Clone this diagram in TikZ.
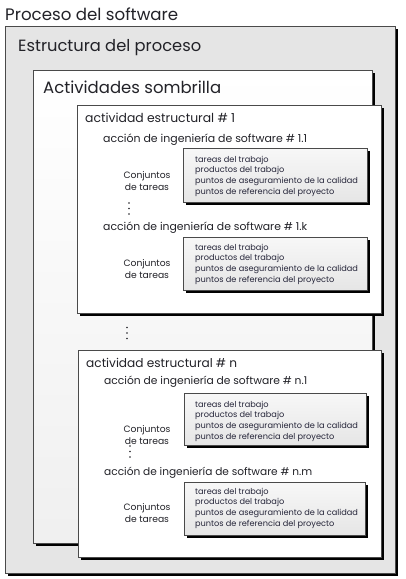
\documentclass[tikz,border=0pt]{standalone}
\usepackage{graphicx}
\usepackage{fontspec}
\setmainfont{Poppins}
\usetikzlibrary{shadows}
\definecolor{txt}{HTML}{222228}
\definecolor{tasktxt}{HTML}{26263A}
\definecolor{edge}{HTML}{4A4A4A}
\tikzset{
  shbox/.style={draw=edge, line width=0.6pt, anchor=north west, inner sep=0pt,
    drop shadow={shadow xshift=3pt, shadow yshift=-3pt, opacity=1, fill=black}},
  outerbox/.style={shbox, fill=black!10},
  umbrella/.style={shbox, top color=white, bottom color=black!6},
  actbox/.style={shbox, fill=white},
  taskbox/.style={shbox, top color=black!3, bottom color=black!10},
  title/.style={anchor=west, inner sep=0pt, text=txt, font=\fontsize{16.6}{19}\selectfont},
  acttitle/.style={anchor=west, inner sep=0pt, text=txt, font=\fontsize{13}{16}\selectfont},
  accion/.style={anchor=west, inner sep=0pt, text=txt, font=\fontsize{10}{12}\selectfont},
  conj/.style={inner sep=0pt, text=txt, align=center, font=\fontsize{9.2}{12.5}\selectfont},
  tasks/.style={anchor=west, inner sep=0pt, text=tasktxt, align=left, font=\fontsize{8.2}{10.7}\selectfont},
  dotfill/.style={fill=txt},
}
\newcommand{\fitw}[2]{\resizebox{#1}{!}{#2}}
\newcommand{\tasklist}{tareas del trabajo\\productos del trabajo\\puntos de aseguramiento de la calidad\\puntos de referencia del proyecto}
\newcommand{\threedots}[3]{%
  \coordinate (#1) at (#2,#3);
  \fill[dotfill] ([yshift=-5.5pt]#1) circle (0.95pt);
  \fill[dotfill] (#1) circle (0.95pt);
  \fill[dotfill] ([yshift=5.5pt]#1) circle (0.95pt);}
\begin{document}
\begin{tikzpicture}[x=1pt,y=-1pt]
\useasboundingbox[fill=white] (0,0) rectangle (405,579);
% title
\node[title] (proc) at (5,14) {\fitw{173pt}{Proceso del software}};
% outer box
\node[outerbox, minimum width=390pt, minimum height=547pt] (outer) at (5,26) {};
\node[title] (estr) at (18,48) {\fitw{183pt}{Estructura del proceso}};
% umbrella
\node[umbrella, minimum width=339pt, minimum height=473pt] (umb) at (33,70) {};
\node[title] (umbt) at (43,87) {\fitw{178pt}{Actividades sombrilla}};
% activity 1
\node[actbox, minimum width=304pt, minimum height=208pt] (act1) at (77,105) {};
\node[acttitle] (act1t) at (85,118) {\fitw{150pt}{actividad estructural \# 1}};
\node[accion] (acc11) at (103,140) {\fitw{204pt}{acción de ingeniería de software \# 1.1}};
\node[taskbox, minimum width=184pt, minimum height=54pt] (tb1) at (183,148) {};
\node[tasks] (tl1) at (195,176) {\tasklist};
\node[conj] (cj1) at (147,181) {Conjuntos\\de tareas};
\threedots{d1}{129}{208.5}
\node[accion] (acc1k) at (103,228) {\fitw{204pt}{acción de ingeniería de software \# 1.k}};
\node[taskbox, minimum width=184pt, minimum height=53pt] (tb2) at (183,237) {};
\node[tasks] (tl2) at (195,264) {\tasklist};
\node[conj] (cj2) at (147,269) {Conjuntos\\de tareas};
% dots between activities
\threedots{d2}{127}{333}
% activity n
\node[actbox, minimum width=303pt, minimum height=207pt] (actn) at (78,350) {};
\node[acttitle] (actnt) at (86,363) {\fitw{151pt}{actividad estructural \# n}};
\node[accion] (accn1) at (104,382) {\fitw{203pt}{acción de ingeniería de software \# n.1}};
\node[taskbox, minimum width=182pt, minimum height=52pt] (tb3) at (184,393) {};
\node[tasks] (tl3) at (195,421) {\tasklist};
\node[conj] (cj3) at (147,435) {Conjuntos\\de tareas};
\threedots{d3}{130}{451.5}
\node[accion] (accnm) at (104,473) {\fitw{208pt}{acción de ingeniería de software \# n.m}};
\node[taskbox, minimum width=181pt, minimum height=53pt] (tb4) at (184,482) {};
\node[tasks] (tl4) at (195,508) {\tasklist};
\node[conj] (cj4) at (147,513) {Conjuntos\\de tareas};
\end{tikzpicture}
\end{document}
